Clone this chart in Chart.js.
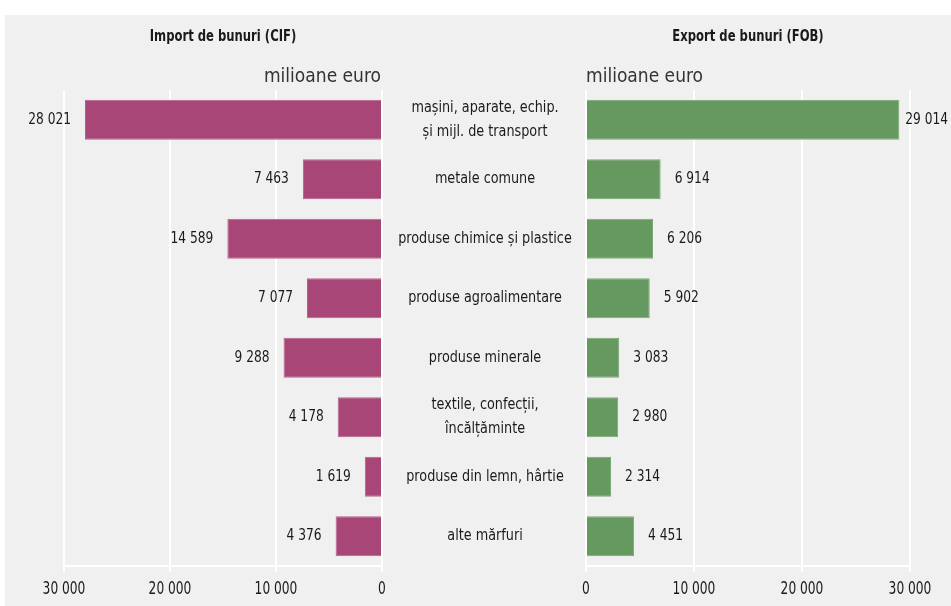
<!DOCTYPE html>
<html><head><meta charset="utf-8">
<script src="https://cdn.jsdelivr.net/npm/chart.js@4/dist/chart.umd.min.js"></script>
<style>
html,body{margin:0;padding:0;background:#fff;width:951px;height:606px;overflow:hidden;}
#bg{position:absolute;left:5px;top:15px;width:946px;height:591px;background:#f0f0f0;}
canvas{position:absolute;top:0;}
#cl{left:0;} #cr{left:382px;}
</style></head><body>
<div id="bg"></div>
<canvas id="cl" width="951" height="606"></canvas>
<canvas id="cr" width="569" height="606"></canvas>
<script>
const categories = [
  ['mașini, aparate, echip.', 'și mijl. de transport'],
  ['metale comune'],
  ['produse chimice și plastice'],
  ['produse agroalimentare'],
  ['produse minerale'],
  ['textile, confecții,', 'încălțăminte'],
  ['produse din lemn, hârtie'],
  ['alte mărfuri']
];
const importValues = [28021, 7463, 14589, 7077, 9288, 4178, 1619, 4376];
const exportValues = [29014, 6914, 6206, 5902, 3083, 2980, 2314, 4451];
const importLabels = ['28 021', '7 463', '14 589', '7 077', '9 288', '4 178', '1 619', '4 376'];
const exportLabels = ['29 014', '6 914', '6 206', '5 902', '3 083', '2 980', '2 314', '4 451'];
const tickValues = [0, 10000, 20000, 30000];
const tickLabels = ['0', '10 000', '20 000', '30 000'];
const titles = ['Import de bunuri (CIF)', 'Export de bunuri (FOB)'];
const unitLabel = 'milioane euro';

const FONT = '"DejaVu Sans Condensed", "Liberation Sans Narrow", sans-serif';
const TXT = '#1a1a1a';

function drawText(ctx, text, x, y, align, sx) {
  ctx.save();
  ctx.translate(x, y);
  ctx.scale(sx, 1);
  ctx.textAlign = align;
  ctx.fillText(text, 0, 0);
  ctx.restore();
}

function xScale(reverse) {
  return {
    type: 'linear', min: 0, max: 30000, reverse: reverse,
    afterBuildTicks: s => { s.ticks = tickValues.map(v => ({value: v})); },
    ticks: { display: false },
    grid: {color: '#ffffff', lineWidth: 2, tickLength: 6, tickColor: '#ffffff', drawTicks: true},
    border: {color: '#ffffff', width: 2},
    afterFit: s => { s.height = 40; }
  };
}

function textPlugin(side, labels) {
  return {
    id: 'txt' + side,
    afterDatasetsDraw(chart) {
      const ctx = chart.ctx;
      const ca = chart.chartArea;
      const meta = chart.getDatasetMeta(0);
      const W = chart.width;
      ctx.save();
      ctx.fillStyle = TXT;
      ctx.textBaseline = 'middle';
      // value labels
      ctx.font = '16px ' + FONT;
      const sx = 0.85;
      meta.data.forEach((el, i) => {
        const w = ctx.measureText(labels[i]).width * sx;
        if (side === 'L') {
          let x = el.x - 14;
          drawText(ctx, labels[i], x, el.y, 'right', sx);
        } else {
          let x = el.x + 14;
          if (x + w > W - 3) x = W - 3 - w;
          drawText(ctx, labels[i], x, el.y, 'left', sx);
        }
      });
      // x tick labels
      const xs = chart.scales.x;
      ctx.font = '17px ' + FONT;
      tickValues.forEach((v, i) => {
        drawText(ctx, tickLabels[i], xs.getPixelForValue(v), 590, 'center', 0.8);
      });
      // titles
      ctx.font = 'bold 15px ' + FONT;
      drawText(ctx, side === 'L' ? titles[0] : titles[1], (ca.left + ca.right) / 2, 37, 'center', 0.86);
      // unit
      ctx.font = '19px ' + FONT;
      ctx.fillStyle = '#333333';
      if (side === 'L') drawText(ctx, unitLabel, ca.right - 1, 77, 'right', 1);
      else drawText(ctx, unitLabel, ca.left, 77, 'left', 1);
      // category labels (middle column)
      if (side === 'R') {
        const ys = chart.scales.y;
        ctx.fillStyle = TXT;
        ctx.font = '16px ' + FONT;
        const cx = ca.left - 101;
        categories.forEach((lines, i) => {
          const yc = ys.getPixelForValue(i);
          const lh = 24;
          lines.forEach((ln, j) => {
            drawText(ctx, ln, cx, yc + (j - (lines.length - 1) / 2) * lh, 'center', 0.89);
          });
        });
      }
      ctx.restore();
    }
  };
}

const catKeys = categories.map(c => c.join(' '));

new Chart(document.getElementById('cl'), {
  type: 'bar',
  data: {
    labels: catKeys,
    datasets: [{data: importValues, backgroundColor: '#a84677', borderColor: '#b7618c', borderWidth: 1,
      barPercentage: 0.67, categoryPercentage: 1}]
  },
  options: {
    indexAxis: 'y', responsive: false, animation: false,
    layout: {padding: {left: 64, right: 569, top: 90, bottom: 0}},
    plugins: {legend: {display: false}, tooltip: {enabled: false}},
    scales: {
      x: xScale(true),
      y: {type: 'category', display: false}
    }
  },
  plugins: [textPlugin('L', importLabels)]
});

new Chart(document.getElementById('cr'), {
  type: 'bar',
  data: {
    labels: catKeys,
    datasets: [{data: exportValues, backgroundColor: '#659960', borderColor: '#79a874', borderWidth: 1,
      barPercentage: 0.67, categoryPercentage: 1}]
  },
  options: {
    indexAxis: 'y', responsive: false, animation: false,
    layout: {padding: {left: 204, right: 41, top: 90, bottom: 0}},
    plugins: {legend: {display: false}, tooltip: {enabled: false}},
    scales: {
      x: xScale(false),
      y: {type: 'category', display: false}
    }
  },
  plugins: [textPlugin('R', exportLabels)]
});
</script>
</body></html>
